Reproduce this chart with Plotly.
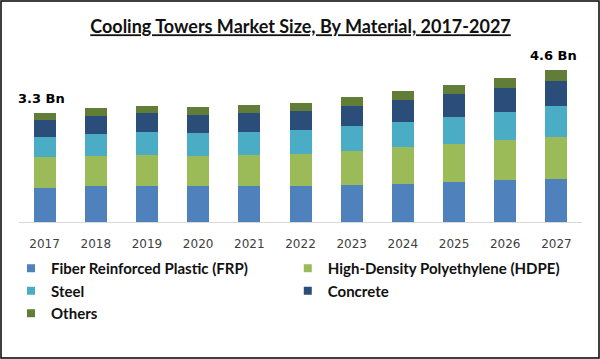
import plotly.graph_objects as go

# ---------------- data ----------------
years = ["2017", "2018", "2019", "2020", "2021", "2022", "2023", "2024", "2025", "2026", "2027"]
frp = [1.04, 1.08, 1.10, 1.08, 1.08, 1.10, 1.13, 1.16, 1.22, 1.28, 1.31]
hdpe = [0.91, 0.91, 0.92, 0.91, 0.95, 0.95, 1.01, 1.09, 1.13, 1.18, 1.25]
steel = [0.60, 0.67, 0.71, 0.68, 0.69, 0.74, 0.77, 0.78, 0.83, 0.87, 0.95]
concrete = [0.54, 0.53, 0.57, 0.57, 0.57, 0.56, 0.59, 0.64, 0.68, 0.71, 0.74]
others = [0.21, 0.25, 0.21, 0.24, 0.23, 0.25, 0.27, 0.28, 0.28, 0.30, 0.33]
series_names = ["Fiber Reinforced Plastic (FRP)", "High-Density Polyethylene (HDPE)",
                "Steel", "Concrete", "Others"]
series_values = [frp, hdpe, steel, concrete, others]
colors = ["#4f81bd", "#9bbb59", "#4bacc6", "#2a4d7a", "#627d37"]
title_text = "Cooling Towers Market Size, By Material, 2017-2027"
labelled_years = ["2017", "2027"]

totals = [sum(v) for v in zip(*series_values)]

# ---------------- layout geometry ----------------
W, H = 600, 359
ML, MR, MT, MB = 19, 18, 60, 137
PW, PH = W - ML - MR, H - MT - MB


def px_x(p):
    return (p - ML) / PW


def px_y(p):
    return (H - MB - p) / PH


fig = go.Figure()
for name, vals, col in zip(series_names, series_values, colors):
    fig.add_trace(go.Bar(x=years, y=vals, name=name, marker=dict(color=col, line=dict(width=0)),
                         showlegend=False))
# legend entries (square markers)
for name, col in zip(series_names, colors):
    fig.add_trace(go.Scatter(x=[None], y=[None], mode="markers", name=name,
                             marker=dict(symbol="square", size=8, color=col)))

annotations = []
for yr in labelled_years:
    i = years.index(yr)
    annotations.append(dict(x=i, y=totals[i], xref="x", yref="y",
                            text=f"<b>{totals[i]:.1f} Bn</b>", showarrow=False,
                            yanchor="bottom", yshift=5, xshift=-3,
                            font=dict(family="DejaVu Sans", size=13, color="#000000")))

fig.update_layout(
    width=W, height=H,
    margin=dict(l=ML, r=MR, t=MT, b=MB, autoexpand=False),
    paper_bgcolor="white", plot_bgcolor="white",
    barmode="stack", bargap=0.57,
    annotations=annotations,
    title=dict(text=f"<u>{title_text}</u>", x=0.5, xanchor="center", xref="paper",
               y=1 - 27 / H, yanchor="middle",
               font=dict(family="Lato", size=18, color="#111111", weight="bold")),
    xaxis=dict(type="category", range=[-0.5, 10.5], showgrid=False, zeroline=False,
               showline=True, linecolor="#d9d9d9", linewidth=1, ticks="",
               ticklabelstandoff=11,
               tickfont=dict(family="DejaVu Sans", size=12, color="#404040")),
    yaxis=dict(range=[0, (H - MB - MT) / 33.15], showticklabels=False, showgrid=False,
               zeroline=False, showline=False, ticks=""),
    legend=dict(orientation="h", traceorder="normal", x=px_x(11), xanchor="left",
                y=px_y(252), yanchor="top", itemwidth=30,
                font=dict(family="Lato", size=15, color="#111111", weight="bold"),
                bgcolor="rgba(0,0,0,0)"),
    shapes=[dict(type="rect", xref="paper", yref="paper",
                 x0=px_x(1), x1=px_x(599), y0=px_y(358), y1=px_y(1),
                 line=dict(color="#000000", width=1.5), fillcolor="rgba(0,0,0,0)", layer="above")],
)

fig.write_html("out.html", config={"displayModeBar": False},
               post_script="document.body.style.margin='0px';")
